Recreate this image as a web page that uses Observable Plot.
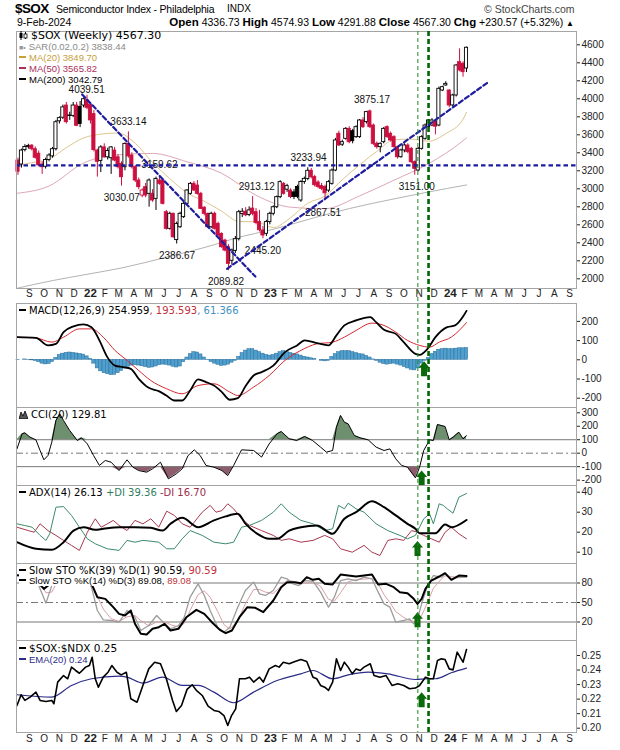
<!DOCTYPE html>
<html>
<head>
<meta charset="utf-8">
<script src="https://cdn.jsdelivr.net/npm/d3@7"></script>
<script src="https://cdn.jsdelivr.net/npm/@observablehq/plot@0.6"></script>
<style>
  html,body{margin:0;padding:0;background:#fff;}
  #wrap{position:relative;width:620px;height:750px;overflow:hidden;background:#fff;font-family:"Liberation Sans",Arial,sans-serif;color:#000;}
  #wrap svg{display:block;}
  .txt{position:absolute;white-space:nowrap;}
  .leg{position:absolute;white-space:nowrap;font-family:"DejaVu Sans",Verdana,sans-serif;font-size:10px;line-height:11px;}
  .leg.bg{background:#fff;padding-right:2px;}
  .leg.small{font-family:"Liberation Sans",Arial,sans-serif;font-size:9.5px;}
  .mk{display:inline-block;width:7px;height:2px;vertical-align:middle;margin-right:3px;position:relative;top:-1px;}
</style>
</head>
<body>
<div id="wrap"></div>
<script>
// ---------------- DATA ----------------
const firstWeek = Date.UTC(2021, 7, 13); // first weekly bar (Friday)
const opens = [
 3314,3270,3430,3465,3480,3440,3390,3270,3245,3320,
 3360,3440,3750,3790,3925,3815,3810,3925,3910,3925,
 3985,3930,3830,3425,3310,3460,3350,3340,3425,3350,
 3277,3240,3500,3370,3240,3092,2925,3018,2944,2944,
 2888,3092,3092,2740,2555,2722,2430,2573,2685,2833,
 2944,3055,3036,2944,2790,2722,2573,2722,2610,2499,
 2425,2351,2200,2310,2440,2720,2745,2710,2780,2740,
 2630,2537,2500,2630,2722,2795,2907,3055,2990,2980,
 2960,3020,2870,3075,3110,3200,3130,3070,3030,3020,
 2980,3055,3203,3611,3490,3555,3666,3640,3574,3574,
 3759,3741,3860,3703,3500,3463,3518,3685,3611,3574,
 3463,3351,3426,3481,3444,3296,3203,3444,3555,3685,
 3703,3741,3703,4092,4148,4092,3926,4037,4407,4389,
 4336.73];
const highs = [
 3340,3440,3490,3495,3490,3465,3420,3300,3340,3390,
 3460,3760,3800,3930,3960,3850,3960,3960,3970,4010,
 4039.51,3950,3870,3440,3480,3500,3450,3470,3460,3380,
 3300,3510,3633.14,3400,3260,3120,3000,3060,3110,2990,
 3130,3140,3100,2760,2740,2730,2630,2740,2850,2990,
 3070,3080,3092,2960,2800,2730,2740,2740,2630,2510,
 2440,2380,2330,2470,2760,2780,2790,2800,2913.12,2780,
 2760,2580,2650,2740,2810,2920,3090,3070,3050,3000,
 2990,3040,3090,3130,3233.94,3225,3150,3090,3060,3040,
 3090,3220,3560,3640,3540,3680,3690,3660,3700,3770,
 3790,3860,3875.17,3720,3520,3510,3680,3700,3630,3590,
 3470,3440,3500,3500,3460,3310,3460,3590,3720,3770,
 3780,3760,4130,4140,4190,4100,4050,4380,4555,4410,
 4574.93];
const lows = [
 3150,3230,3410,3440,3420,3330,3250,3160,3220,3300,
 3340,3420,3720,3770,3720,3760,3790,3690,3680,3900,
 3880,3720,3410,3130,3180,3340,3320,3160,3300,3220,
 3030.07,3200,3340,3220,3070,2990,2900,2900,2796,2850,
 2759,3040,2820,2540,2540,2450,2386.67,2560,2670,2820,
 2930,2970,2930,2770,2700,2560,2560,2540,2470,2340,
 2300,2089.82,2150,2280,2420,2680,2690,2690,2700,2600,
 2520,2445.20,2470,2600,2700,2780,2890,2930,2960,2890,
 2880,2890,2850,3050,3090,3110,3020,3000,2980,2867.51,
 2960,3040,3190,3470,3470,3540,3500,3500,3560,3560,
 3670,3720,3670,3480,3440,3400,3500,3560,3520,3450,
 3330,3340,3400,3390,3280,3151.00,3190,3430,3540,3670,
 3690,3600,3690,4080,4140,3900,3910,4020,4300,4240,
 4291.88];
const closes = [
 3190,3425,3465,3475,3440,3345,3260,3240,3320,3370,
 3440,3740,3785,3905,3740,3810,3925,3700,3720,3995,
 3900,3760,3430,3300,3460,3350,3420,3460,3314,3240,
 3129,3499,3360,3240,3092,3018,2981,2925,3092,2870,
 3110,3055,2833,2555,2722,2462,2610,2722,2833,2981,
 3055,2981,2944,2777,2722,2573,2722,2555,2481,2351,
 2314,2166,2314,2440,2740,2745,2705,2760,2722,2620,
 2540,2481,2630,2722,2795,2907,3074,2944,3030,2910,
 2910,2910,3075,3110,3200,3129,3040,3020,3000,2950,
 3074,3203,3537,3481,3518,3666,3518,3530,3685,3759,
 3685,3852,3685,3500,3463,3500,3666,3574,3537,3463,
 3351,3426,3481,3407,3296,3222,3444,3574,3703,3759,
 3759,3690,4111,4129,4166,3926,4037,4370,4315,4296,
 4567.30];

// moving averages: [week index, value]
const ma20 = [[-0.3,3260],[4,3290],[9,3330],[14,3457],[19,3565],[24,3607],[29,3620],[34,3505],[39,3292],[44,3113],[49,2954],[54,2862],[59,2752],[64,2637],[69,2634],[74,2569],[79,2678],[84,2840],[89,2919],[94,3101],[99,3266],[104,3415],[109,3545],[114,3552],[119,3529],[124,3613],[129,3773],[130,3849.70]];
const ma50 = [[-0.3,2950],[9,3031],[19,3286],[29,3378],[39,3393],[49,3300],[59,3173],[69,2928],[79,2796],[89,2779],[99,2921],[109,3096],[119,3279],[129,3534],[130,3565.82]];
const ma200 = [[-0.3,1895],[10,1980],[20,2050],[30,2120],[43,2240],[57,2380],[62,2440],[75,2560],[86,2680],[96,2780],[108,2880],[119,2965],[130,3042.79]];

// annotations on the price panel: [week index, value, text]
const priceLabels = [[19.9,4100,"4039.51"],[32.0,3740,"3633.14"],[30.1,2898,"3030.07"],[41.0,3262,"3159.62"],[46.1,2255,"2386.67"],[60.3,1970,"2089.82"],[69.2,3020,"2913.12"],[71.0,2314,"2445.20"],[84.2,3342,"3233.94"],[88.4,2731,"2867.51"],[102.6,3987,"3875.17"],[115.6,3026,"3151.00"]];
const downTrend = [[18.6,4048],[68.8,2025]];
const upTrend = [[60.6,2111],[136.3,4185]];
const supportLevel = 3260;
const signalWeeks = [115.9, 119.0];

// MACD
const macdHist = [
 -2,0,2,-1,-3,-6,-12,-20,-24,-22,
 -12,10,25,32,36,38,36,33,30,27,
 18,5,-20,-45,-60,-70,-75,-80,-78,-70,
 -58,-45,-36,-30,-28,-30,-34,-38,-42,-40,
 -35,-28,-25,-26,-30,-36,-40,-35,-12,12,
 30,40,38,28,12,-2,-12,-20,-26,-32,
 -30,-25,-15,-5,15,35,48,55,55,48,
 40,32,25,22,25,32,40,45,42,36,
 32,28,22,16,12,8,5,0,-5,-8,
 -5,15,30,40,45,45,45,40,35,30,
 28,20,12,2,-5,-15,-22,-25,-22,-20,
 -25,-30,-38,-45,-52,-55,-45,-20,-5,10,
 30,42,52,55,58,55,55,58,60,60,
 61.366];
const macdLine = [[-0.3,118],[5.2,114],[8.7,75],[11.0,83],[13.2,144],[16.1,174],[19.0,184],[21.3,170],[23.6,101],[25.9,14],[28.1,-30],[30.4,-38],[32.7,-47],[35.0,-99],[37.9,-146],[40.8,-163],[43.0,-186],[45.3,-212],[47.6,-212],[49.9,-160],[52.2,-102],[54.5,-116],[56.8,-134],[59.1,-168],[61.4,-208],[63.7,-200],[65.9,-139],[68.3,-82],[70.6,-64],[74.0,-30],[77.4,40],[80.9,75],[83.1,101],[86.6,87],[90.0,75],[92.3,127],[94.6,179],[98.0,205],[102.1,222],[103.8,196],[106.1,156],[109.5,135],[111.8,92],[115.2,31],[116.4,26],[118.7,57],[121.0,118],[124.4,170],[126.7,179],[129.0,225],[130,254.959]];
const macdSignal = [[-0.3,118],[5.2,114],[9.8,92],[13.2,118],[17.8,161],[21.3,161],[24.7,118],[28.1,49],[31.6,-3],[35.0,-56],[38.5,-108],[43.1,-151],[47.6,-177],[52.2,-134],[56.8,-125],[61.4,-168],[63.7,-186],[68.3,-142],[72.8,-82],[77.4,-3],[82.0,49],[86.6,83],[91.2,92],[94.6,118],[98.0,153],[102.6,191],[106.1,179],[109.5,144],[112.9,101],[116.4,75],[119.3,66],[122.1,92],[125.6,118],[130,193.593]];

// CCI(20)
const cciLine = [[-0.3,32],[1.2,144],[2.0,151],[3.5,119],[5.2,99],[6.4,20],[7.5,-49],[8.7,-17],[9.8,82],[11.0,243],[12.1,292],[13.2,243],[15.0,168],[17.2,94],[18.4,114],[20.1,69],[21.9,-17],[23.6,-91],[25.3,-54],[27.0,-67],[29.3,-129],[31.6,-49],[33.3,-104],[35.0,-129],[37.3,-141],[39.0,-116],[41.3,-67],[43.6,-190],[45.9,-153],[47.6,-116],[49.3,-17],[51.1,25],[52.8,-17],[54.5,-91],[56.8,-104],[59.1,-129],[60.8,-166],[62.5,-91],[64.8,25],[68.3,20],[70.6,-29],[72.8,69],[75.1,144],[76.3,161],[78.6,107],[80.8,94],[83.1,124],[85.4,94],[87.7,45],[89.4,8],[91.2,20],[92.3,193],[93.5,280],[94.6,230],[95.7,218],[97.5,131],[99.2,114],[101.5,99],[103.8,45],[106.1,20],[107.8,32],[109.5,-42],[111.2,-91],[112.9,-104],[115.2,-183],[116.4,-104],[117.6,20],[119.3,99],[120.4,94],[121.6,213],[123.8,198],[125.0,99],[126.1,119],[127.8,156],[129.0,107],[130,129.81]];

// ADX(14)
const adxLine = [[-0.3,15],[5.2,11.7],[9.8,11.2],[13.2,15],[16.1,20.8],[19.0,22.5],[22.4,21.2],[24.7,21.7],[29.3,22.5],[33.9,22.5],[38.5,22.2],[41.9,20.8],[44.2,24.2],[47.6,27.2],[52.2,22.5],[56.8,25.9],[60.2,27.9],[63.7,29.2],[66.0,24.2],[69.4,19.2],[72.8,16.7],[75.1,16.7],[78.6,20.8],[82.0,22.5],[86.6,23.4],[91.2,19.2],[94.6,26.7],[98.0,30],[102.6,35.5],[106.1,32.5],[109.5,28.4],[112.9,24.2],[115.2,21.7],[116.4,19.5],[121.0,19.5],[123.8,23.8],[125.6,22.5],[130,26.13]];
const plusDI = [[-0.3,24.2],[1.8,23.4],[4.1,22.5],[6.4,18.4],[8.1,15.9],[9.2,19.2],[11.0,32.5],[13.2,32.8],[15.5,28.4],[17.8,22.5],[20.1,16.7],[22.4,14.2],[25.9,11.7],[29.3,10.9],[31.6,15.9],[33.9,15],[36.2,15.9],[38.5,15.5],[40.8,15],[43.1,11.7],[45.3,11.7],[47.6,16.7],[49.9,20.8],[53.4,18.4],[56.8,15],[60.2,14.2],[62.5,15],[64.8,22.5],[67.1,23.4],[70.6,25.9],[74.0,30],[76.3,34.2],[78.6,30],[82.0,25.9],[85.5,24.2],[88.9,20.8],[91.2,21.7],[92.9,33.4],[94.6,31.7],[95.7,34.5],[98.0,31.7],[100.3,30],[103.8,24.2],[107.2,20.8],[110.7,18.4],[112.9,16.7],[115.2,18.4],[117.6,26.7],[119.3,29.2],[120.4,24.2],[122.1,34.2],[123.3,33.4],[124.4,31.7],[126.1,29.5],[127.8,37.5],[130,39.36]];
const minusDI = [[-0.3,22.5],[3.0,20.8],[4.7,20],[6.4,24.2],[8.7,20.8],[11.0,18.4],[13.2,15.9],[15.5,13.4],[17.8,10.9],[20.1,20],[22.4,26.7],[24.1,22.5],[25.9,24.2],[27.6,25.9],[29.3,23.4],[31.6,20.8],[33.9,25.9],[36.2,24.2],[38.5,26.7],[40.8,22.5],[43.1,30.5],[45.3,28.4],[47.6,24.2],[49.9,22.5],[53.4,30],[55.7,33.4],[57.4,30],[59.1,30.8],[60.8,34.2],[62.5,31.7],[64.8,26.7],[67.1,23.4],[70.6,20.8],[74.0,18.4],[76.3,15.9],[78.6,16.7],[82.0,15],[85.5,15.9],[88.9,18.4],[91.2,16.7],[93.5,11.7],[96.9,10],[100.3,13.4],[102.6,10],[104.9,8.35],[107.2,15.9],[109.5,16.7],[111.8,15.9],[114.1,20.8],[115.8,20],[117.6,18.4],[119.8,16.7],[122.1,15],[123.8,20],[125.6,22.5],[127.8,19.2],[130,16.70]];

// Slow stochastics
const stoK39 = [[-0.3,92],[4.1,90],[5.8,81],[7.5,71],[9.2,78],[10.4,91.5],[12.3,96],[15.2,94],[18.1,92],[20.1,90],[21.3,78.7],[23.0,58.2],[25.3,55.6],[27.6,42.8],[29.3,32.5],[31.0,30],[32.7,37.7],[33.9,17.2],[35.6,1.8],[37.3,0.8],[39.0,9.5],[40.8,12],[42.5,17.2],[44.2,6.9],[46.5,9.5],[48.8,27.4],[51.7,38.7],[54.0,32.5],[56.2,19.7],[58.5,7.9],[60.2,2.8],[62.0,6.9],[64.2,27.4],[66.5,42.8],[68.8,41.8],[71.1,35.1],[74.0,53.1],[76.3,73.6],[78.0,81.3],[80.3,81.3],[82.0,79.7],[83.7,89],[85.5,84.9],[87.2,86.4],[88.9,78.7],[91.2,77.7],[93.5,93],[95.7,91.5],[98.0,90],[100.3,91.5],[102.6,93],[104.4,77.7],[106.7,78.7],[108.9,73.6],[110.7,65.9],[112.9,64.3],[114.7,55.6],[115.8,47.9],[117.0,55.6],[118.1,71],[119.8,83.8],[122.1,90],[123.8,95.1],[125.6,84.9],[127.8,91.5],[130,90.59]];
const stoK14 = [[5.8,78.7],[8.1,49],[9.8,76],[11.2,95],[15.2,90],[18.1,88],[20.1,85],[21.3,73.6],[23.0,37.7],[24.7,23.3],[27.0,22.3],[29.3,19.7],[31.6,37.7],[33.9,27.4],[35.6,6.9],[37.9,14.6],[40.2,30],[42.5,17.2],[44.2,9.5],[46.5,14.6],[48.2,27.4],[49.9,58.2],[52.2,78.7],[54.0,60.8],[55.7,37.7],[57.9,12],[59.7,4.3],[61.4,12],[63.7,42.8],[65.9,68.5],[68.3,81.3],[70.0,63.3],[71.7,60.8],[74.0,68.5],[76.3,89],[78.0,86.4],[79.7,78.7],[81.4,76.1],[83.1,83.8],[85.5,82.8],[87.7,65.9],[90.0,42.8],[91.7,58.2],[93.5,83.8],[95.7,86.4],[98.0,83.8],[100.3,89],[102.6,86.4],[104.4,65.9],[106.1,47.9],[107.8,42.8],[109.5,19.7],[111.8,22.3],[113.5,24.9],[114.7,17.2],[115.8,24.9],[117.0,47.9],[118.7,76.1],[120.4,91.5],[122.7,89],[123.8,94],[125.6,86.4],[127.8,89],[130,89.08]];
const stoD3 = [[5.8,85],[8.1,65],[9.8,66],[11.2,80],[15.2,92],[20.1,88],[21.3,82],[23.0,60],[24.7,40],[27.0,25],[29.3,21],[31.6,28],[33.9,30],[35.6,22],[37.9,14],[40.2,20],[42.5,20],[44.2,16],[46.5,12],[48.2,18],[49.9,38],[52.2,62],[54.0,68],[55.7,58],[57.9,36],[59.7,16],[61.4,9],[63.7,22],[65.9,48],[68.3,70],[70.0,70],[71.7,66],[74.0,64],[76.3,75],[78.0,84],[79.7,83],[81.4,78],[83.1,80],[85.5,82],[87.7,75],[90.0,55],[91.7,52],[93.5,65],[95.7,82],[98.0,85],[100.3,86],[102.6,87],[104.4,79],[106.1,62],[107.8,50],[109.5,36],[111.8,27],[113.5,22],[114.7,21],[115.8,22],[117.0,30],[118.7,50],[120.4,72],[122.7,86],[123.8,91],[125.6,90],[127.8,88],[130,89.08]];

// $SOX:$NDX ratio
const ratioLine = [[-0.3,0.2156],[0.9,0.2230],[2.0,0.2191],[3.5,0.2214],[5.2,0.2248],[6.4,0.2191],[8.1,0.2184],[9.8,0.2191],[10.4,0.2168],[11.5,0.2317],[13.2,0.2362],[14.4,0.2340],[15.5,0.2420],[16.7,0.2397],[17.8,0.2378],[19.6,0.2420],[20.7,0.2431],[21.5,0.2488],[22.4,0.2340],[23.3,0.2282],[24.7,0.2351],[26.1,0.2385],[27.2,0.2431],[28.7,0.2385],[29.9,0.2367],[31.4,0.2385],[32.7,0.2202],[34.5,0.2179],[36.2,0.2294],[37.9,0.2408],[39.6,0.2454],[41.3,0.2443],[43.0,0.2340],[44.8,0.2191],[45.9,0.2115],[47.4,0.2156],[49.0,0.2267],[50.5,0.2299],[51.7,0.2260],[53.4,0.2225],[55.1,0.2152],[56.8,0.2122],[58.2,0.2115],[59.7,0.2087],[60.8,0.2019],[61.9,0.2087],[63.1,0.2133],[64.2,0.2340],[65.9,0.2340],[67.1,0.2351],[68.3,0.2317],[70.0,0.2351],[71.1,0.2317],[72.8,0.2408],[74.6,0.2431],[75.7,0.2420],[76.9,0.2454],[78.6,0.2443],[80.3,0.2459],[82.0,0.2472],[83.7,0.2459],[85.5,0.2351],[86.6,0.2340],[87.7,0.2294],[88.9,0.2282],[90.0,0.2260],[91.2,0.2317],[92.3,0.2477],[93.5,0.2397],[94.6,0.2454],[95.7,0.2420],[96.9,0.2374],[98.0,0.2408],[99.2,0.2397],[100.3,0.2420],[102.1,0.2443],[103.2,0.2362],[104.9,0.2351],[106.7,0.2362],[108.4,0.2294],[110.1,0.2306],[111.8,0.2294],[113.5,0.2271],[115.2,0.2276],[116.4,0.2294],[118.1,0.2351],[119.3,0.2340],[120.4,0.2340],[121.6,0.2466],[122.7,0.2477],[123.8,0.2472],[125.0,0.2408],[126.1,0.2401],[127.3,0.2523],[129.0,0.2454],[130,0.2541]];
const ratioEma = [[-0.3,0.2230],[9.8,0.2214],[15.5,0.2294],[21.3,0.2340],[29.3,0.2358],[31.6,0.2351],[36.2,0.2310],[41.9,0.2351],[47.6,0.2294],[52.2,0.2294],[56.8,0.2248],[62.5,0.2175],[68.3,0.2248],[75.1,0.2328],[82.0,0.2374],[85.5,0.2397],[91.2,0.2340],[95.7,0.2367],[101.5,0.2385],[107.2,0.2374],[115.2,0.2335],[118.7,0.2340],[121.0,0.2340],[125.6,0.2381],[130,0.2413]];

// buy-signal arrows per panel: [week index, value]
const arrowMacd = [117.7,-47], arrowCci = [117.0,-184], arrowAdx = [115.8,11.85], arrowSto = [115.8,23.5], arrowRatio = [117.0,0.2196];

// ticks
const monthLabels = ["S","O","N","D","22","F","M","A","M","J","J","A","S","O","N","D","23","F","M","A","M","J","J","A","S","O","N","D","24","F","M","A","M","J","J","A","S"];
const priceTicks = [2000,2200,2400,2600,2800,3000,3200,3400,3600,3800,4000,4200,4400,4600];
const macdTicks = [-200,-100,0,100,200];
const cciTicks = [-200,-100,0,100,200,300];
const adxTicks = [10,20,30,40];
const stoTicks = [20,50,80];
const ratioTicks = [0.20,0.21,0.22,0.23,0.24,0.25];

// ---------------- RENDER ----------------
const wrap = document.getElementById("wrap");
const DAY = 864e5;
const wd = w => new Date(firstWeek + w * 7 * DAY);
const xDomain = [new Date(Date.UTC(2021,7,9,23)), new Date(Date.UTC(2024,8,19,5))];
const W = 620, ML = 16, MR = 44;
const RED = "#cc1040", BLUE = "#1d1d9e", GREEN = "#0a690a";
const FONT = "Liberation Sans, Arial, sans-serif";

const candles = opens.map((o, i) => {
  const c = closes[i], prev = i ? closes[i-1] : o;
  const col = c >= prev ? "#000" : RED;
  return {date: wd(i), open: o, high: highs[i], low: lows[i], close: c, col, fillCol: c < o ? col : "#fff"};
});

const months = d3.utcMonth.range(new Date(Date.UTC(2021,8,1)), new Date(Date.UTC(2024,9,1)));
const monthTicks = months.map((d, i) => ({date: d, label: monthLabels[i], year: /\d/.test(monthLabels[i])}));
function axisLabels(dy) {
  return [
    Plot.text(monthTicks.filter(d => !d.year), {x: "date", text: "label", frameAnchor: "bottom", dy, dx: 2, fontSize: 10, fill: "#222"}),
    Plot.text(monthTicks.filter(d => d.year), {x: "date", text: "label", frameAnchor: "bottom", dy, dx: 3, fontSize: 11.5, fontWeight: "bold", fill: "#222"})
  ];
}
const blockArrow = {draw(ctx) {
  ctx.moveTo(0,-7.5); ctx.lineTo(5.5,-1); ctx.lineTo(3,-1); ctx.lineTo(3,7.5);
  ctx.lineTo(-3,7.5); ctx.lineTo(-3,-1); ctx.lineTo(-5.5,-1); ctx.closePath();
}};
const arrowMark = p => Plot.dot([p], {x: d => wd(d[0]), y: d => d[1], symbol: blockArrow, r: 6, fill: GREEN});
const L = (arr, opts) => Plot.line(arr, {x: d => wd(d[0]), y: d => d[1], ...opts});

function panel({top, height, yDomain, ticks, tickFormat, marks, marginTop = 0, marginBottom = 0}) {
  const svg = Plot.plot({
    width: W, height, marginLeft: ML, marginRight: MR, marginTop, marginBottom,
    x: {type: "utc", domain: xDomain, axis: null},
    y: {domain: yDomain, axis: "right", ticks, tickFormat: tickFormat || (d => String(d)), tickSize: 3, tickPadding: 2, label: null},
    style: {fontSize: "10px", fontFamily: FONT, color: "#222", background: "transparent", overflow: "visible"},
    marks: [...marks, Plot.frame({stroke: "#a5a5a5"})]
  });
  svg.style.position = "absolute"; svg.style.left = "0px"; svg.style.top = top + "px";
  wrap.appendChild(svg);
  return svg;
}

// Main price panel (frame 31..288)
const mainSvg = panel({
  top: 30, height: 273, marginTop: 1, marginBottom: 15, yDomain: [1892.2, 4747.8], ticks: priceTicks,
  marks: [
    L(ma200, {stroke: "#b3b3b3", strokeWidth: 1, curve: "monotone-x", clip: true}),
    L(ma50, {stroke: "#dca8b8", strokeWidth: 1, curve: "monotone-x", clip: true}),
    L(ma20, {stroke: "#dcc68e", strokeWidth: 1, curve: "monotone-x", clip: true}),
    Plot.ruleX(candles, {x: "date", y1: "low", y2: "high", stroke: d => d.col, strokeWidth: 1}),
    Plot.rect(candles, {x1: d => new Date(+d.date - 3.2*DAY), x2: d => new Date(+d.date + 3.2*DAY), y1: "open", y2: "close", fill: d => d.fillCol, stroke: d => d.col, strokeWidth: 0.9}),
    Plot.text(priceLabels, {x: d => wd(d[0]), y: d => d[1], text: d => d[2], fontSize: 10, fill: "#111", ariaLabel: "annot"}),
    Plot.ruleY([supportLevel], {stroke: BLUE, strokeWidth: 2.2, strokeDasharray: "4.5,3"}),
    L(downTrend, {stroke: BLUE, strokeWidth: 2.2, strokeDasharray: "4.5,3"}),
    L(upTrend, {stroke: BLUE, strokeWidth: 2.2, strokeDasharray: "4.5,3"}),
    ...axisLabels(8)
  ]
});
d3.select(mainSvg).selectAll('g[aria-label="annot"] text').each(function() {
  const b = this.getBBox();
  const r = document.createElementNS("http://www.w3.org/2000/svg", "rect");
  r.setAttribute("x", b.x - 2); r.setAttribute("y", b.y); r.setAttribute("width", b.width + 4); r.setAttribute("height", b.height);
  r.setAttribute("fill", "#fff"); r.setAttribute("stroke", "#b8b8b8"); r.setAttribute("stroke-width", "1");
  const t = this.getAttribute("transform"); if (t) r.setAttribute("transform", t);
  this.parentNode.insertBefore(r, this);
});

// MACD (303..407)
panel({
  top: 303, height: 104, yDomain: [-248.4, 293.2], ticks: macdTicks,
  marks: [
    Plot.rectY(macdHist, {x1: (d, i) => new Date(+wd(i) - 3.4*DAY), x2: (d, i) => new Date(+wd(i) + 3.4*DAY), y1: 0, y2: d => d, fill: "#4f9fcf", stroke: "#2a6e9a", strokeWidth: 0.5}),
    L(macdSignal, {stroke: "#d42a32", strokeWidth: 1, curve: "monotone-x"}),
    L(macdLine, {stroke: "#000", strokeWidth: 1.8, curve: "monotone-x"}),
    arrowMark(arrowMacd)
  ]
});

// CCI (407..485)
panel({
  top: 407, height: 78, yDomain: [-239.8, 339.3], ticks: cciTicks,
  marks: [
    Plot.areaY(cciLine, {x: d => wd(d[0]), y1: 100, y2: d => Math.max(d[1], 100), fill: "#6f906f"}),
    Plot.areaY(cciLine, {x: d => wd(d[0]), y1: -100, y2: d => Math.min(d[1], -100), fill: "#8e5d6c"}),
    Plot.ruleY([100, -100], {stroke: "#777", strokeWidth: 1}),
    Plot.ruleY([0], {stroke: "#777", strokeWidth: 1, strokeDasharray: "7,3,2,3"}),
    L(cciLine, {stroke: "#000", strokeWidth: 1}),
    arrowMark(arrowCci)
  ]
});

// ADX (485..563)
panel({
  top: 485, height: 78, yDomain: [4.35, 43.35], ticks: adxTicks,
  marks: [
    L(minusDI, {stroke: "#a8384f", strokeWidth: 1}),
    L(plusDI, {stroke: "#3b8a6b", strokeWidth: 1}),
    L(adxLine, {stroke: "#000", strokeWidth: 2, curve: "monotone-x"}),
    arrowMark(arrowAdx)
  ]
});

// Slow STO (563..640)
panel({
  top: 563, height: 77, yDomain: [-8.46, 110], ticks: stoTicks,
  marks: [
    Plot.ruleY([80, 20], {stroke: "#777", strokeWidth: 1}),
    Plot.ruleY([50], {stroke: "#777", strokeWidth: 1, strokeDasharray: "7,3,2,3"}),
    L(stoD3, {stroke: "#dba0a6", strokeWidth: 1}),
    L(stoK14, {stroke: "#9c9c9c", strokeWidth: 1.3}),
    L(stoK39, {stroke: "#000", strokeWidth: 2}),
    arrowMark(arrowSto)
  ]
});

// Ratio (640..732)
panel({
  top: 640, height: 110, marginBottom: 18, yDomain: [0.19704, 0.26032], ticks: ratioTicks, tickFormat: d3.format(".2f"),
  marks: [
    L(ratioEma, {stroke: "#2b2b8a", strokeWidth: 1.2, curve: "monotone-x"}),
    L(ratioLine, {stroke: "#000", strokeWidth: 1.6}),
    arrowMark(arrowRatio),
    ...axisLabels(9)
  ]
});

// green signal lines overlay (31..732)
const ov = Plot.plot({
  width: W, height: 750, marginLeft: ML, marginRight: MR, marginTop: 31, marginBottom: 18,
  x: {type: "utc", domain: xDomain, axis: null}, y: {axis: null, domain: [0, 1]},
  style: {background: "transparent"},
  marks: [
    Plot.ruleX([wd(signalWeeks[0])], {stroke: "#1f8a1f", strokeWidth: 1, strokeDasharray: "4,3"}),
    Plot.ruleX([wd(signalWeeks[1])], {stroke: "#006400", strokeWidth: 2.6, strokeDasharray: "5,3"})
  ]
});
ov.style.position = "absolute"; ov.style.left = "0px"; ov.style.top = "0px"; ov.style.pointerEvents = "none";
wrap.appendChild(ov);

// ---------------- TEXT ----------------
function add(html, cls, left, top, extra) {
  const d = document.createElement("div");
  d.className = cls; d.style.left = left + "px"; d.style.top = top + "px";
  if (extra) d.style.cssText += extra;
  d.innerHTML = html; wrap.appendChild(d); return d;
}
add("$SOX", "txt", 15, 1, "font-size:13.5px;font-weight:bold;letter-spacing:-0.6px;");
add("Semiconductor Index - Philadelphia", "txt", 56, 3, "font-size:10.5px;letter-spacing:-0.2px;");
add("INDX", "txt", 227, 3, "font-size:10px;");
add("&copy; StockCharts.com", "txt", 484, 3, "font-size:10.5px;color:#444;");
add("9-Feb-2024", "txt", 17, 16, "font-size:10.5px;");
add("<b style='font-size:11.5px'>Open</b> 4336.73 <b style='font-size:11.5px'>High</b> 4574.93 <b style='font-size:11.5px'>Low</b> 4291.88 <b style='font-size:11.5px'>Close</b> 4567.30 <b style='font-size:11.5px'>Chg</b> +230.57 (+5.32%) <span style='font-size:8px'>&#9650;</span>",
    "txt", 0, 16, "left:auto;right:46px;font-size:10.5px;");

const candleIcon = "<svg width='9' height='9' style='display:inline-block;vertical-align:middle;margin-right:3px;position:relative;top:-1px'><line x1='2' y1='0' x2='2' y2='9' stroke='#000'/><rect x='0.5' y='2' width='3' height='5' fill='#000'/><line x1='6.5' y1='1' x2='6.5' y2='8' stroke='#000'/><rect x='5' y='3' width='3' height='4' fill='#fff' stroke='#000' stroke-width='0.8'/></svg>";
const cciIcon = "<svg width='9' height='9' style='display:inline-block;vertical-align:middle;margin-right:3px;position:relative;top:-1px'><path d='M0,9 L2,2 L4,6 L6,1 L9,9 Z' fill='#555' stroke='#000' stroke-width='0.8'/></svg>";
const mk = c => `<span class="mk" style="background:${c}"></span>`;

add(candleIcon + "$SOX (Weekly) 4567.30", "leg", 19, 30, "font-size:11px;");
add("<span style='color:#999;font-size:7px;margin-right:3px'>&#9632;&#8226;</span>SAR(0.02,0.2) 3838.44", "leg small", 19, 41, "color:#8a8a8a;");
add(mk("#c8a040") + "MA(20) 3849.70", "leg small", 19, 52, "color:#c8a040;");
add(mk("#a8305a") + "MA(50) 3565.82", "leg small", 19, 63, "color:#a8305a;");
add(mk("#000") + "MA(200) 3042.79", "leg small", 19, 74, "");

add(mk("#000") + "MACD(12,26,9) 254.959<span style='color:#c0303a'>, 193.593</span><span style='color:#3f8fbf'>, 61.366</span>", "leg", 19, 305, "");
add(cciIcon + "CCI(20) 129.81", "leg", 19, 409, "");
add(mk("#000") + "ADX(14) 26.13 <span style='color:#2f7d5d'>+DI 39.36</span> <span style='color:#9b2c4c'>-DI 16.70</span>", "leg", 19, 487, "");
add(mk("#000") + "Slow STO %K(39) %D(1) 90.59, <span style='color:#c0303a'>90.59</span>", "leg bg", 19, 565, "");
add(mk("#000") + "Slow STO %K(14) %D(3) 89.08, <span style='color:#c0303a'>89.08</span>", "leg small bg", 19, 575, "");
add(mk("#000") + "$SOX:$NDX 0.25", "leg bg", 19, 643, "font-size:10.5px;");
add(mk("#2b2b8a") + "EMA(20) 0.24", "leg small", 19, 654, "color:#2b2b8a;");
</script>
</body>
</html>
